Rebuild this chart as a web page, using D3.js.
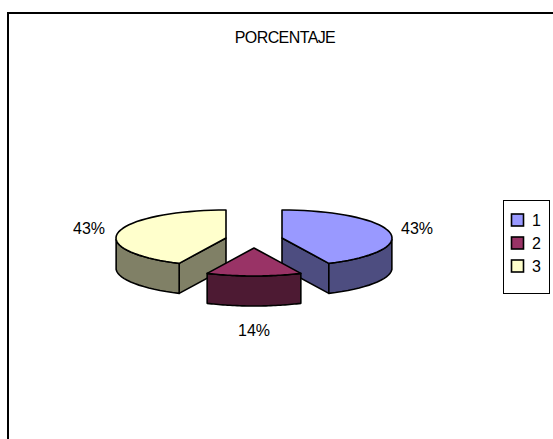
<!DOCTYPE html>
<html><head><meta charset="utf-8">
<style>html,body{margin:0;padding:0;background:#fff}svg{display:block}text{font-family:"Liberation Sans",Arial,sans-serif;fill:#000}</style>
<script src="https://cdn.jsdelivr.net/npm/d3@7"></script></head>
<body><script>
const title = "PORCENTAJE";
const categories = ["1","2","3"];
const values = [43,14,43];
const labels = ["43%","14%","43%"];
const topColors = ["#9999FF","#993366","#FFFFCC"];
const sideColors = ["#4D4D80","#4D1A33","#808066"];

const W=553,H=439;
const svg=d3.select("body").append("svg").attr("width",W).attr("height",H);
svg.append("rect").attr("x",8).attr("y",13).attr("width",W).attr("height",H).attr("fill","#fff").attr("stroke","#000").attr("stroke-width",2);
svg.append("text").attr("x",285).attr("y",43).attr("text-anchor","middle").attr("font-size",16).attr("letter-spacing",-0.6).text(title);

const rx=110,ry=28,depth=30;
const centers=[[282,238],[254,248],[226,238]];
const labelPos=[[417,234],[254,336],[89,234]];
const arcs=d3.pie().sort(null)(values);
const pt=(c,a,d=0)=>[c[0]+rx*Math.sin(a),c[1]-ry*Math.cos(a)+d];
const line=d3.line();
const g=svg.append("g").attr("stroke","#000").attr("stroke-width",1.6).attr("stroke-linejoin","round");
[2,0,1].forEach(i=>{
  const a=arcs[i],c=centers[i];
  const n=40;
  const ang=d3.range(n+1).map(k=>a.startAngle+(a.endAngle-a.startAngle)*k/n);
  const clamp=ang.filter(t=>t>=Math.PI/2&&t<=3*Math.PI/2);
  // radial cut walls
  const wall=t=>[[c[0],c[1]],pt(c,t),pt(c,t,depth),[c[0],c[1]+depth]];
  if(i===0) g.append("path").attr("d",line(wall(a.endAngle))+"Z").attr("fill",sideColors[i]);
  if(i===2) g.append("path").attr("d",line(wall(a.startAngle))+"Z").attr("fill",sideColors[i]);
  // outer wall
  const o=[...clamp.map(t=>pt(c,t)),...clamp.slice().reverse().map(t=>pt(c,t,depth))];
  g.append("path").attr("d",line(o)+"Z").attr("fill",sideColors[i]);
  // top
  const top=[[c[0],c[1]],...ang.map(t=>pt(c,t))];
  g.append("path").attr("d",line(top)+"Z").attr("fill",topColors[i]);
});
svg.append("g").selectAll("text").data(labels).join("text")
  .attr("x",(d,i)=>labelPos[i][0]).attr("y",(d,i)=>labelPos[i][1])
  .attr("text-anchor","middle").attr("font-size",16).text(d=>d);

svg.append("rect").attr("x",503.5).attr("y",200.5).attr("width",46).attr("height",93).attr("fill","#fff").attr("stroke","#000").attr("stroke-width",1);
const ly=d3.scalePoint().domain(categories).range([220,266]);
const leg=svg.append("g").selectAll("g").data(categories).join("g");
leg.append("rect").attr("x",511.5).attr("y",d=>ly(d)-6).attr("width",12).attr("height",12)
  .attr("fill",(d,i)=>topColors[i]).attr("stroke","#000").attr("stroke-width",1.6);
leg.append("text").attr("x",532).attr("y",d=>ly(d)+6).attr("font-size",16).text(d=>d);
</script></body></html>
